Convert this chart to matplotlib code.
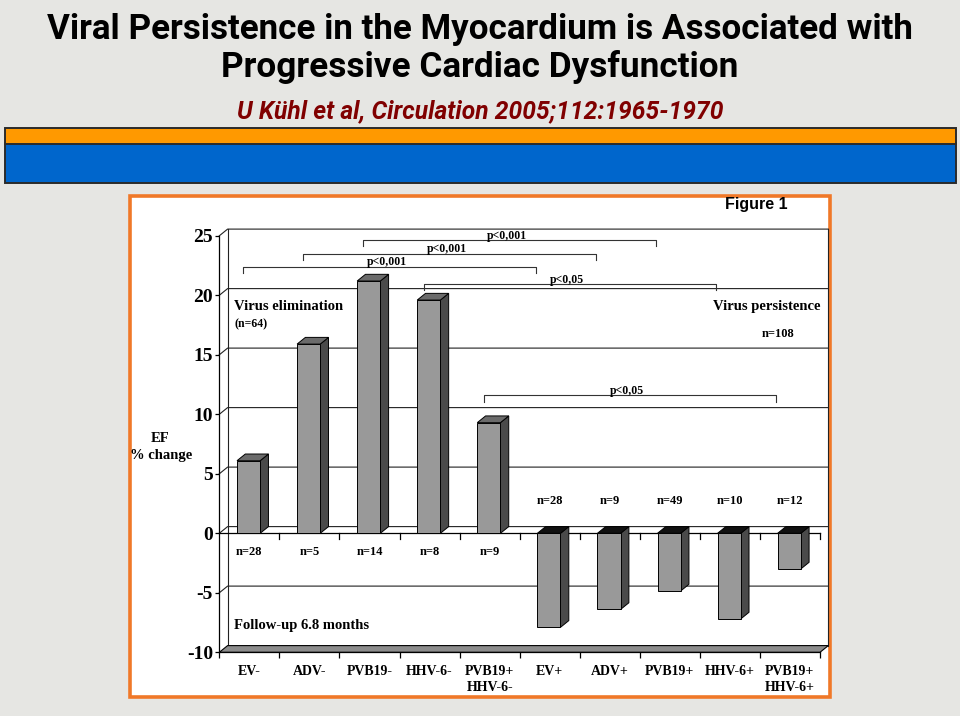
import matplotlib
matplotlib.use("Agg")
import matplotlib.pyplot as plt
from matplotlib.patches import Rectangle, Polygon

# ---------------- data ----------------
categories = ["EV-", "ADV-", "PVB19-", "HHV-6-", "PVB19+\nHHV-6-",
              "EV+", "ADV+", "PVB19+", "HHV-6+", "PVB19+\nHHV-6+"]
ef_change = [6.1, 15.9, 21.2, 19.6, 9.3, -7.9, -6.4, -4.85, -7.2, -3.0]
n_labels = ["n=28", "n=5", "n=14", "n=8", "n=9",
            "n=28", "n=9", "n=49", "n=10", "n=12"]
y_ticks = [-10, -5, 0, 5, 10, 15, 20, 25]
bracket_start = [0, 1, 2, 3, 4]
bracket_level = [22.4, 23.5, 24.65, 20.95, 11.6]
bracket_text = ["p<0,001", "p<0,001", "p<0,001", "p<0,05", "p<0,05"]

# ---------------- layout constants ----------------
W, H = 960, 716
X0PX, XS = 219.3, 60.07      # pixel of category-axis origin, px per category
Y0PX, YS = 533.3, 11.9       # pixel of value 0 (front), px per unit
DX, DY = 8.3 / XS, 6.7 / YS  # 3-D depth offset in data units
BAR_OFF, BAR_W = 0.295, 0.385
SERIF = ["Liberation Serif", "DejaVu Serif"]

fig = plt.figure(figsize=(W / 100, H / 100), dpi=100)
fig.patch.set_facecolor("#E6E6E3")


def fx(px):
    return px / W


def fy(py):
    return 1 - py / H


# banner
fig.add_artist(Rectangle((fx(5), fy(183)), fx(956) - fx(5), (183 - 143.5) / H,
                         transform=fig.transFigure, fc="#0066CC", ec="#2b2b2b", lw=1.4,
                         zorder=-2))
fig.add_artist(Rectangle((fx(5), fy(143.5)), fx(956) - fx(5), (143.5 - 128) / H,
                         transform=fig.transFigure, fc="#FF9900", ec="#2b2b2b", lw=1.4,
                         zorder=-2))

# chart frame
fig.add_artist(Rectangle((fx(130), fy(697)), 700 / W, 501 / H,
                         transform=fig.transFigure, fc="white", ec="#F07828", lw=2.6,
                         zorder=-2))

# titles
t1 = fig.text(0.5, fy(39.3), "Viral Persistence in the Myocardium is Associated with",
              ha="center", va="baseline", fontsize=24, fontweight="bold",
              family=["Roboto", "DejaVu Sans"], color="black")
t2 = fig.text(0.5, fy(76.7), "Progressive Cardiac Dysfunction",
              ha="center", va="baseline", fontsize=24, fontweight="bold",
              family=["Roboto", "DejaVu Sans"], color="black")
t3 = fig.text(0.5, fy(118.3), "U Kühl et al, Circulation 2005;112:1965-1970",
              ha="center", va="baseline", fontsize=17, fontweight="bold", style="italic",
              family=["Roboto", "DejaVu Sans"], color="#800000")
fig.text(fx(756), fy(205), "Figure 1", ha="center", va="center", fontsize=11.5,
         fontweight="bold", family=["Liberation Sans", "DejaVu Sans"])
fig.text(fx(160), fy(438), "EF", ha="center", va="center", fontsize=10.5,
         fontweight="bold", family=SERIF)
fig.text(fx(161), fy(455), "% change", ha="center", va="center", fontsize=10.5,
         fontweight="bold", family=SERIF)

# ---------------- axes ----------------
xlim = (-0.3, 10.3)
ylim = (-10.8, 26.0)
left = X0PX + xlim[0] * XS
right = X0PX + xlim[1] * XS
top = Y0PX - ylim[1] * YS
bottom = Y0PX - ylim[0] * YS
ax = fig.add_axes([left / W, 1 - bottom / H, (right - left) / W, (bottom - top) / H])
ax.set_zorder(5)
ax.set_xlim(*xlim)
ax.set_ylim(*ylim)
ax.patch.set_alpha(0)

n = len(categories)
for s in ("top", "right"):
    ax.spines[s].set_visible(False)
ax.spines["left"].set_position(("data", 0))
ax.spines["left"].set_bounds(y_ticks[0], y_ticks[-1])
ax.spines["bottom"].set_position(("data", y_ticks[0]))
ax.spines["bottom"].set_bounds(0, n)
for s in ("left", "bottom"):
    ax.spines[s].set_linewidth(0.9)

ax.set_yticks(y_ticks)
ax.set_yticklabels([str(v) for v in y_ticks], fontsize=14, fontweight="bold", family=SERIF)
ax.tick_params(axis="y", length=3, width=0.9, pad=1.5)

ax.set_xticks([i + 0.5 for i in range(n)])
ax.set_xticklabels(categories, fontsize=10, fontweight="bold", family=SERIF, linespacing=1.3)
ax.tick_params(axis="x", which="major", length=0, pad=9.5)
ax.set_xticks(list(range(n + 1)), minor=True)
ax.tick_params(axis="x", which="minor", length=4.3, width=0.9)

lc = "#222222"
# walls / gridlines
for v in y_ticks[1:]:
    ax.plot([0, DX, n + DX], [v, v + DY, v + DY], color=lc, lw=0.8, zorder=1)
ax.plot([DX, DX], [y_ticks[0] + DY, y_ticks[-1] + DY], color=lc, lw=0.8, zorder=1)
ax.plot([n + DX, n + DX], [y_ticks[0] + DY, y_ticks[-1] + DY], color=lc, lw=0.8, zorder=1)
# floor
ax.add_patch(Polygon([(0, y_ticks[0]), (n, y_ticks[0]), (n + DX, y_ticks[0] + DY),
                      (DX, y_ticks[0] + DY)], closed=True, fc="#8C8C8C", ec="black",
                     lw=0.8, zorder=1.5))
# front zero line with ticks
ax.plot([0, n], [0, 0], color="black", lw=0.9, zorder=2)
for b in range(1, n + 1):
    ax.plot([b, b], [0, -0.5], color="black", lw=0.9, zorder=2)

# bars
for i, v in enumerate(ef_change):
    x0 = i + BAR_OFF
    x1 = x0 + BAR_W
    side = [(x1, 0), (x1 + DX, DY), (x1 + DX, v + DY), (x1, v)]
    ax.add_patch(Polygon(side, closed=True, fc="#4A4A4A", ec="black", lw=0.7, zorder=3))
    ytop = max(v, 0)
    topface = [(x0, ytop), (x1, ytop), (x1 + DX, ytop + DY), (x0 + DX, ytop + DY)]
    ax.add_patch(Polygon(topface, closed=True, fc="#6B6B6B" if v > 0 else "#111111",
                         ec="black", lw=0.7, zorder=3))
    ax.add_patch(Rectangle((x0, 0), BAR_W, v, fc="#999999", ec="black", lw=0.7, zorder=4))
    ny = -1.57 if v > 0 else 2.7
    ax.text(i + 0.5, ny, n_labels[i], ha="center", va="center", fontsize=9,
            fontweight="bold", family=SERIF, zorder=5)

# significance brackets
for s, lvl, txt in zip(bracket_start, bracket_level, bracket_text):
    xa, xb = s + 0.40, s + 5.27
    ax.plot([xa, xa, xb, xb], [lvl - 0.53, lvl, lvl, lvl - 0.53], color="#333333",
            lw=0.8, zorder=2, clip_on=False)
    ax.text((xa + xb) / 2 - 0.05, lvl + 0.12, txt, ha="center", va="baseline",
            fontsize=8.5, fontweight="bold", family=SERIF, zorder=5)

# annotations
ax.text(0.245, 19.1, "Virus elimination", ha="left", va="center", fontsize=10.5,
        fontweight="bold", family=SERIF, zorder=5)
ax.text(0.245, 17.6, "(n=64)", ha="left", va="center", fontsize=8.5,
        fontweight="bold", family=SERIF, zorder=5)
ax.text(10.01, 19.04, "Virus persistence", ha="right", va="center", fontsize=10.5,
        fontweight="bold", family=SERIF, zorder=5)
ax.text(9.30, 16.75, "n=108", ha="center", va="center", fontsize=9,
        fontweight="bold", family=SERIF, zorder=5)
ax.text(0.245, -7.75, "Follow-up 6.8 months", ha="left", va="center", fontsize=10.5,
        fontweight="bold", family=SERIF, zorder=5)

# fit title widths to the reference
fig.canvas.draw()
r = fig.canvas.get_renderer()
for t, target in ((t1, 866), (t2, 517), (t3, 487)):
    w = t.get_window_extent(r).width
    t.set_fontsize(t.get_fontsize() * target / w)

fig.savefig("out.png", dpi=100, facecolor=fig.get_facecolor())
